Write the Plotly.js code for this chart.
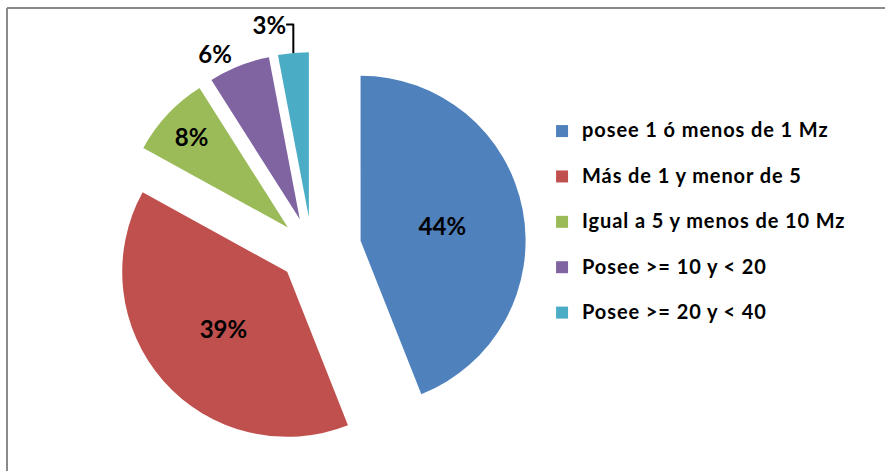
<!DOCTYPE html>
<html>
<head>
<meta charset="utf-8">
<script src="https://cdn.plot.ly/plotly-3.0.1.min.js"></script>
<style>
  html, body { margin: 0; padding: 0; background: #ffffff; }
  #chart { width: 885px; height: 471px; }
</style>
</head>
<body>
<div id="chart"></div>
<script>
var categories = [
  "posee 1 ó menos de 1 Mz",
  "Más de 1 y menor de 5",
  "Igual a 5 y menos de 10 Mz",
  "Posee >= 10 y < 20",
  "Posee >= 20 y < 40"
];
var values = [44, 39, 8, 6, 3];
var colors = ["#4F81BD", "#C0504D", "#9BBB59", "#8064A2", "#4BACC6"];
var pulls = [0.3, 0.2, 0.2, 0.2, 0.2];
var textPositions = ["inside", "inside", "inside", "outside", "outside"];

function esc(s) {
  return s.replace(/&/g, "&amp;").replace(/</g, "&lt;").replace(/>/g, "&gt;");
}
var legendLabels = categories.map(function (c) {
  return '<span style="font-size:20px;letter-spacing:0.9px">' + esc(c) + '</span><br> ';
});

var trace = {
  type: "pie",
  labels: legendLabels,
  values: values,
  sort: false,
  direction: "clockwise",
  rotation: 0,
  pull: pulls,
  marker: { colors: colors, line: { color: "#ffffff", width: 0 } },
  texttemplate: "%{value}%",
  textposition: textPositions,
  insidetextorientation: "horizontal",
  textfont: { family: "Lato, 'Open Sans', sans-serif", size: 24, color: "#000000", weight: "bold" },
  outsidetextfont: { family: "Lato, 'Open Sans', sans-serif", size: 24, color: "#000000", weight: "bold" },
  domain: { x: [0.110, 0.595], y: [0.0138, 0.9246] },
  hoverinfo: "percent"
};

var layout = {
  width: 885,
  height: 471,
  margin: { l: 0, r: 0, t: 0, b: 0 },
  paper_bgcolor: "#ffffff",
  plot_bgcolor: "#ffffff",
  showlegend: true,
  legend: {
    x: 0.6125,
    y: 0.758,
    xanchor: "left",
    yanchor: "top",
    valign: "top",
    font: { family: "Lato, 'Open Sans', sans-serif", size: 16.3, color: "#000000", weight: "bold" },
    bgcolor: "rgba(0,0,0,0)"
  },
  shapes: [
    { type: "line", xref: "paper", yref: "paper", x0: 7 / 885, x1: 1, y0: 1 - 8 / 471, y1: 1 - 8 / 471,
      line: { color: "#8a8a8a", width: 2 } },
    { type: "line", xref: "paper", yref: "paper", x0: 7 / 885, x1: 7 / 885, y0: 0, y1: 1 - 8 / 471,
      line: { color: "#8a8a8a", width: 2 } }
  ]
};

Plotly.newPlot("chart", [trace], layout, { displayModeBar: false, staticPlot: true });
</script>
</body>
</html>
